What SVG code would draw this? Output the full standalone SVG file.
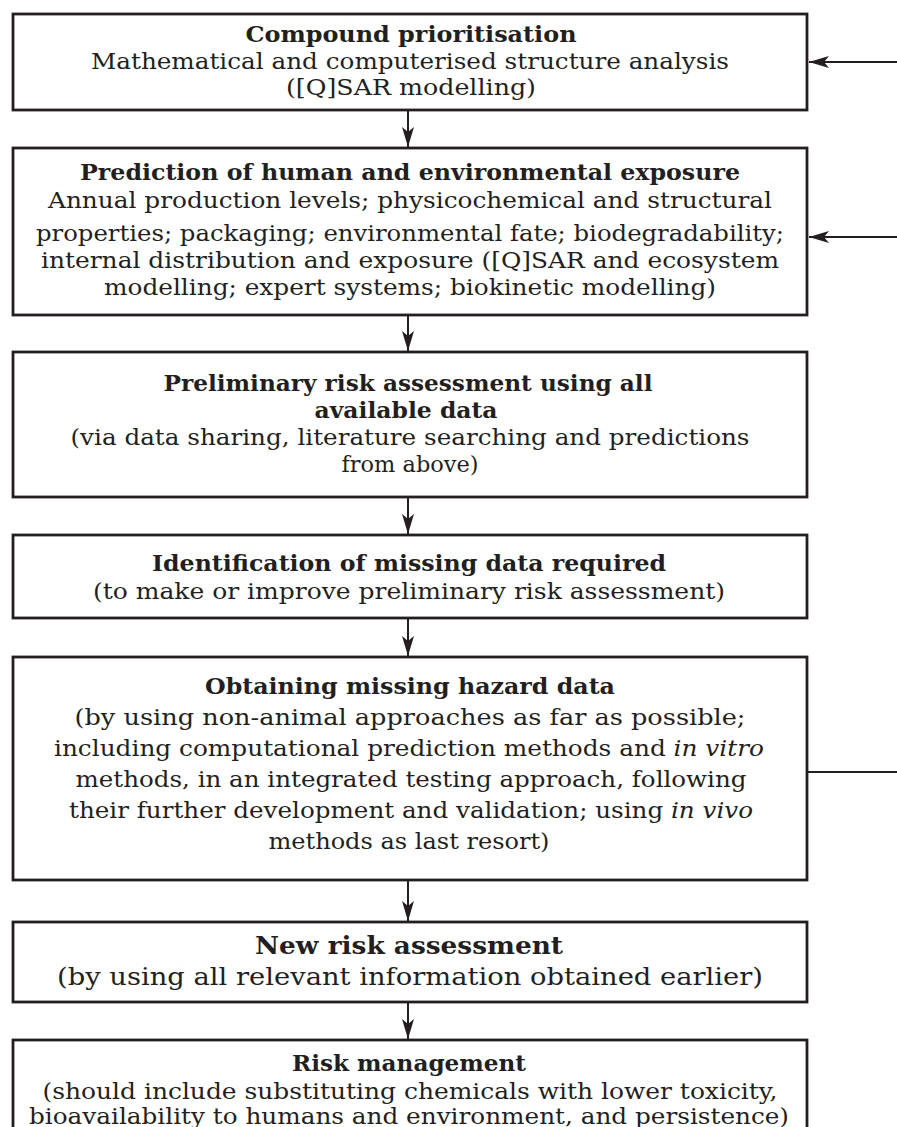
<svg xmlns="http://www.w3.org/2000/svg" width="897" height="1127" viewBox="0 0 897 1127">
<defs>
<marker id="ah" viewBox="0 0 20 12" refX="20" refY="6" markerWidth="20" markerHeight="12" markerUnits="userSpaceOnUse" orient="auto">
<path d="M0,0 L20,6 L0,12 L5,6 Z" fill="#231f20"/>
</marker>
<style>
.box{fill:#fff;stroke:#231f20;stroke-width:2.8}
.ln{stroke:#231f20;stroke-width:2;fill:none}
text{font-family:"DejaVu Serif","Liberation Serif",serif;font-size:22px;fill:#231f20;text-anchor:middle}
.b{font-weight:bold;font-size:22px}
.big{font-size:25px}
.bb{font-weight:bold;font-size:24px}
.i{font-style:italic}
</style>
</defs>
<rect width="897" height="1127" fill="#fff"/>
<g id="connectors">
<line class="ln" x1="408" y1="110" x2="408" y2="147" marker-end="url(#ah)"/>
<line class="ln" x1="408" y1="315" x2="408" y2="351" marker-end="url(#ah)"/>
<line class="ln" x1="408" y1="497" x2="408" y2="534" marker-end="url(#ah)"/>
<line class="ln" x1="408" y1="618" x2="408" y2="656" marker-end="url(#ah)"/>
<line class="ln" x1="408" y1="880" x2="408" y2="921" marker-end="url(#ah)"/>
<line class="ln" x1="408" y1="1002" x2="408" y2="1039" marker-end="url(#ah)"/>
<line class="ln" x1="897" y1="62" x2="809" y2="62" marker-end="url(#ah)"/>
<line class="ln" x1="897" y1="237" x2="809" y2="237" marker-end="url(#ah)"/>
<line class="ln" x1="807" y1="772" x2="897" y2="772"/>
</g>
<g id="n1">
<rect class="box" x="13" y="14" width="794" height="96"/>
<text class="b" x="411" y="42" textLength="331" lengthAdjust="spacingAndGlyphs">Compound prioritisation</text>
<text x="410" y="69" textLength="638" lengthAdjust="spacingAndGlyphs">Mathematical and computerised structure analysis</text>
<text x="411" y="95" textLength="250" lengthAdjust="spacingAndGlyphs">([Q]SAR modelling)</text>
</g>
<g id="n2">
<rect class="box" x="13" y="148" width="794" height="167"/>
<text class="b" x="410" y="180" textLength="660" lengthAdjust="spacingAndGlyphs">Prediction of human and environmental exposure</text>
<text x="410" y="208" textLength="724" lengthAdjust="spacingAndGlyphs">Annual production levels; physicochemical and structural</text>
<text x="410" y="241" textLength="748" lengthAdjust="spacingAndGlyphs">properties; packaging; environmental fate; biodegradability;</text>
<text x="410" y="268" textLength="738" lengthAdjust="spacingAndGlyphs">internal distribution and exposure ([Q]SAR and ecosystem</text>
<text x="410" y="295" textLength="612" lengthAdjust="spacingAndGlyphs">modelling; expert systems; biokinetic modelling)</text>
</g>
<g id="n3">
<rect class="box" x="13" y="352" width="794" height="145"/>
<text class="b" x="408" y="391" textLength="489" lengthAdjust="spacingAndGlyphs">Preliminary risk assessment using all</text>
<text class="b" x="406" y="418" textLength="183" lengthAdjust="spacingAndGlyphs">available data</text>
<text x="410" y="445" textLength="679" lengthAdjust="spacingAndGlyphs">(via data sharing, literature searching and predictions</text>
<text x="410" y="472" textLength="137" lengthAdjust="spacingAndGlyphs">from above)</text>
</g>
<g id="n4">
<rect class="box" x="13" y="535" width="794" height="83"/>
<text class="b" x="409" y="571" textLength="514" lengthAdjust="spacingAndGlyphs">Identification of missing data required</text>
<text x="409" y="599" textLength="632" lengthAdjust="spacingAndGlyphs">(to make or improve preliminary risk assessment)</text>
</g>
<g id="n5">
<rect class="box" x="13" y="657" width="794" height="223"/>
<text class="b" x="410" y="694" textLength="410" lengthAdjust="spacingAndGlyphs">Obtaining missing hazard data</text>
<text x="410" y="725" textLength="671" lengthAdjust="spacingAndGlyphs">(by using non-animal approaches as far as possible;</text>
<text x="409" y="756" textLength="710" lengthAdjust="spacingAndGlyphs">including computational prediction methods and <tspan class="i">in vitro</tspan></text>
<text x="411" y="787" textLength="671" lengthAdjust="spacingAndGlyphs">methods, in an integrated testing approach, following</text>
<text x="411" y="818" textLength="684" lengthAdjust="spacingAndGlyphs">their further development and validation; using <tspan class="i">in vivo</tspan></text>
<text x="409" y="849" textLength="281" lengthAdjust="spacingAndGlyphs">methods as last resort)</text>
</g>
<g id="n6">
<rect class="box" x="13" y="922" width="794" height="80"/>
<text class="bb" x="409" y="954" textLength="308" lengthAdjust="spacingAndGlyphs">New risk assessment</text>
<text class="big" x="410" y="985" textLength="706" lengthAdjust="spacingAndGlyphs">(by using all relevant information obtained earlier)</text>
</g>
<g id="n7">
<rect class="box" x="13" y="1040" width="794" height="100"/>
<text class="b" x="409" y="1071" textLength="234" lengthAdjust="spacingAndGlyphs">Risk management</text>
<text x="410" y="1099" textLength="735" lengthAdjust="spacingAndGlyphs">(should include substituting chemicals with lower toxicity,</text>
<text x="409" y="1124" textLength="760" lengthAdjust="spacingAndGlyphs">bioavailability to humans and environment, and persistence)</text>
</g>
</svg>
